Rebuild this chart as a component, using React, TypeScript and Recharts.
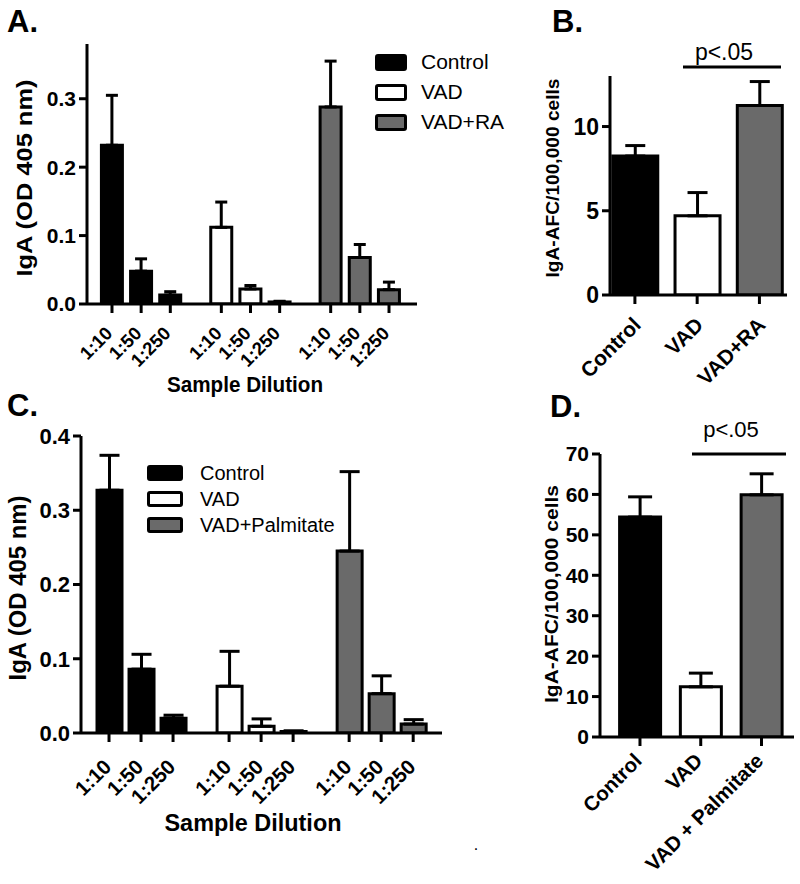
import React from 'react';
import { BarChart, Bar, XAxis, YAxis, Cell, ErrorBar, Legend } from 'recharts';

const FONT = '"Liberation Sans", Arial, Helvetica, sans-serif';

// ---------- Panel A ----------
const dilutionLabels = ['1:10', '1:50', '1:250'];
const treatmentsA = ['Control', 'VAD', 'VAD+RA'];
const aControl = [0.232, 0.048, 0.013];
const aControlErr = [0.073, 0.018, 0.005];
const aVAD = [0.112, 0.022, 0.003];
const aVADErr = [0.037, 0.005, 0.001];
const aVADRA = [0.288, 0.068, 0.021];
const aVADRAErr = [0.067, 0.019, 0.011];
const aYTicks = [0, 0.1, 0.2, 0.3];

// ---------- Panel B ----------
const treatmentsB = ['Control', 'VAD', 'VAD+RA'];
const bMeans = [8.25, 4.7, 11.25];
const bErr = [0.62, 1.38, 1.42];
const bYTicks = [0, 5, 10];

// ---------- Panel C ----------
const treatmentsC = ['Control', 'VAD', 'VAD+Palmitate'];
const cControl = [0.327, 0.086, 0.02];
const cControlErr = [0.047, 0.02, 0.004];
const cVAD = [0.063, 0.009, 0.002];
const cVADErr = [0.047, 0.01, 0.001];
const cVADP = [0.245, 0.053, 0.012];
const cVADPErr = [0.107, 0.024, 0.006];
const cYTicks = [0, 0.1, 0.2, 0.3, 0.4];

// ---------- Panel D ----------
const treatmentsD = ['Control', 'VAD', 'VAD + Palmitate'];
const dMeans = [54.4, 12.4, 59.9];
const dErr = [5.0, 3.4, 5.2];
const dYTicks = [0, 10, 20, 30, 40, 50, 60, 70];

const groupColors = ['#000000', '#ffffff', '#6a6a6a'];
const GROUP_STEP = 3.75;

type Row = { x: number; v: number; err: [number, number]; fill: string; label: string };

function buildGrouped(series: number[][], errs: number[][]): Row[] {
  const rows: Row[] = [];
  series.forEach((vals, g) =>
    vals.forEach((v, d) =>
      rows.push({ x: g * GROUP_STEP + d, v, err: [0, errs[g][d]], fill: groupColors[g], label: dilutionLabels[d] })
    )
  );
  return rows;
}

function buildSimple(labels: string[], means: number[], errs: number[]): Row[] {
  return means.map((v, i) => ({ x: i, v, err: [0, errs[i]], fill: groupColors[i], label: labels[i] }));
}

const rowsA = buildGrouped([aControl, aVAD, aVADRA], [aControlErr, aVADErr, aVADRAErr]);
const rowsB = buildSimple(treatmentsB, bMeans, bErr);
const rowsC = buildGrouped([cControl, cVAD, cVADP], [cControlErr, cVADErr, cVADPErr]);
const rowsD = buildSimple(treatmentsD, dMeans, dErr);

const AXIS = { stroke: '#000', strokeWidth: 3 };

function makeTick(rows: Row[], dx: number, dy: number, fontSize: number) {
  return (props: any) => {
    const { x, y, payload } = props;
    const r = rows.find((row) => Math.abs(row.x - payload.value) < 1e-6);
    const ax = x + dx;
    const ay = y + dy;
    return (
      <text
        x={ax}
        y={ay}
        dy="0.35em"
        textAnchor="end"
        transform={`rotate(-45 ${ax} ${ay})`}
        fontSize={fontSize}
        fontWeight="bold"
        fontFamily={FONT}
        fill="#000"
      >
        {r ? r.label : ''}
      </text>
    );
  };
}

function AbsText(props: any) {
  const { tx, ty, text, fontSize, rotate, length, weight } = props;
  return (
    <text
      x={tx}
      y={ty}
      dy={rotate ? '0.35em' : undefined}
      textAnchor="middle"
      fontSize={fontSize}
      fontWeight={weight || 'bold'}
      fontFamily={FONT}
      fill="#000"
      textLength={length}
      lengthAdjust="spacingAndGlyphs"
      transform={rotate ? `rotate(-90 ${tx} ${ty})` : undefined}
    >
      {text}
    </text>
  );
}

function LegendBlock(props: any) {
  const { items, boxW, boxH, rowH, gap, fontSize } = props;
  return (
    <div style={{ fontFamily: FONT, fontSize, color: '#000' }}>
      {items.map((t: string, i: number) => (
        <div key={t} style={{ display: 'flex', alignItems: 'center', height: rowH, whiteSpace: 'nowrap' }}>
          <span
            style={{
              display: 'inline-block',
              width: boxW,
              height: boxH,
              border: '3px solid #000',
              borderRadius: 3,
              background: groupColors[i],
              boxSizing: 'border-box',
              marginRight: gap,
            }}
          />
          <span>{t}</span>
        </div>
      ))}
    </div>
  );
}

function Panel(p: any) {
  return (
    <BarChart width={p.width} height={p.height} data={p.rows} margin={p.margin}>
      <XAxis
        type="number"
        dataKey="x"
        domain={p.xDomain}
        ticks={p.rows.map((r: Row) => r.x)}
        interval={0}
        allowDataOverflow
        height={40}
        axisLine={AXIS}
        tickLine={AXIS}
        tickSize={9}
        tickMargin={2}
        tick={makeTick(p.rows, p.tickDx, p.tickDy, p.tickFont)}
        label={p.xTitle}
      />
      <YAxis
        type="number"
        domain={p.yDomain}
        ticks={p.yTicks}
        interval={0}
        allowDataOverflow
        width={p.yAxisWidth}
        axisLine={AXIS}
        tickLine={AXIS}
        tickSize={8}
        tickMargin={3}
        tick={{ fontSize: p.yTickFont, fontWeight: 'bold', fill: '#000', fontFamily: FONT }}
        tickFormatter={p.yFmt}
        label={p.yTitle}
      />
      {p.legend ? (
        <Legend
          layout="horizontal"
          verticalAlign="middle"
          align="center"
          content={() => p.legend.node}
          wrapperStyle={{ left: p.legend.left, top: p.legend.top, width: 'auto', height: 'auto' }}
        />
      ) : null}
      <Bar dataKey="v" barSize={p.barSize} stroke="#000" strokeWidth={3} isAnimationActive={false}>
        {p.rows.map((r: Row, i: number) => (
          <Cell key={i} fill={r.fill} />
        ))}
        <ErrorBar dataKey="err" direction="y" width={p.errWidth} stroke="#000" strokeWidth={3} isAnimationActive={false} />
      </Bar>
    </BarChart>
  );
}

const fmt1 = (v: number) => v.toFixed(1);
const fmt0 = (v: number) => String(v);

export default function App() {
  return (
    <div style={{ position: 'absolute', left: 0, top: 0, width: 800, height: 884, background: '#fff', fontFamily: FONT }}>
      <div style={{ position: 'absolute', left: 0, top: 0 }}>
        <Panel
          width={470}
          height={420}
          rows={rowsA}
          margin={{ top: 44, right: 53, bottom: 76, left: 27 }}
          xDomain={[-0.857, 10.46]}
          yDomain={[0, 0.38]}
          yTicks={aYTicks}
          yFmt={fmt1}
          yAxisWidth={60}
          yTickFont={21}
          barSize={21}
          errWidth={6}
          tickDx={-3}
          tickDy={15}
          tickFont={18.5}
          xTitle={<AbsText tx={245} ty={392} text="Sample Dilution" fontSize={22} length={156} />}
          yTitle={<AbsText tx={24} ty={178} text="IgA (OD 405 nm)" fontSize={22} length={197} rotate />}
          legend={{
            left: 375,
            top: 47,
            node: <LegendBlock items={treatmentsA} boxW={32} boxH={17} rowH={30} gap={14} fontSize={21} />,
          }}
        />
      </div>
      <div style={{ position: 'absolute', left: 520, top: 0 }}>
        <Panel
          width={280}
          height={420}
          rows={rowsB}
          margin={{ top: 76, right: 13, bottom: 85, left: 40 }}
          xDomain={[-0.4, 2.443]}
          yDomain={[0, 13]}
          yTicks={bYTicks}
          yFmt={fmt0}
          yAxisWidth={50}
          yTickFont={23}
          barSize={45}
          errWidth={10}
          tickDx={2}
          tickDy={15}
          tickFont={21}
          yTitle={<AbsText tx={32} ty={178} text="IgA-AFC/100,000 cells" fontSize={19} length={199} rotate />}
        />
      </div>
      <div style={{ position: 'absolute', left: 0, top: 420 }}>
        <Panel
          width={470}
          height={464}
          rows={rowsC}
          margin={{ top: 16, right: 28, bottom: 111, left: 21 }}
          xDomain={[-0.875, 10.4]}
          yDomain={[0, 0.4]}
          yTicks={cYTicks}
          yFmt={fmt1}
          yAxisWidth={60}
          yTickFont={22}
          barSize={25}
          errWidth={10}
          tickDx={-1.5}
          tickDy={19}
          tickFont={20.5}
          xTitle={<AbsText tx={253} ty={411} text="Sample Dilution" fontSize={23} length={177} />}
          yTitle={<AbsText tx={18} ty={168} text="IgA (OD 405 nm)" fontSize={23} length={185} rotate />}
          legend={{
            left: 147,
            top: 40,
            node: <LegendBlock items={treatmentsC} boxW={36} boxH={16} rowH={26} gap={17} fontSize={20} />,
          }}
        />
      </div>
      <div style={{ position: 'absolute', left: 520, top: 420 }}>
        <Panel
          width={280}
          height={464}
          rows={rowsD}
          margin={{ top: 34, right: 6, bottom: 107, left: 30 }}
          xDomain={[-0.658, 2.535]}
          yDomain={[0, 70]}
          yTicks={dYTicks}
          yFmt={fmt0}
          yAxisWidth={50}
          yTickFont={21}
          barSize={41}
          errWidth={12}
          tickDx={-2}
          tickDy={9}
          tickFont={20.5}
          yTitle={<AbsText tx={31} ty={174} text="IgA-AFC/100,000 cells" fontSize={19} length={218} rotate />}
        />
      </div>
      <svg
        width={800}
        height={884}
        style={{ position: 'absolute', left: 0, top: 0, pointerEvents: 'none' }}
      >
        <g fontFamily={FONT} fill="#000">
          <text x={7} y={32} fontSize={31} fontWeight="bold">A.</text>
          <text x={552} y={32} fontSize={31} fontWeight="bold">B.</text>
          <text x={7} y={416} fontSize={31} fontWeight="bold">C.</text>
          <text x={550} y={417} fontSize={31} fontWeight="bold">D.</text>
          <text x={724} y={60} fontSize={23} textAnchor="middle">p&lt;.05</text>
          <text x={731} y={437} fontSize={22} textAnchor="middle">p&lt;.05</text>
          <text x={476} y={850} fontSize={16} textAnchor="middle">.</text>
        </g>
        <line x1={683} y1={67} x2={781} y2={67} stroke="#000" strokeWidth={3} />
        <line x1={692} y1={454} x2={786} y2={454} stroke="#000" strokeWidth={3} />
      </svg>
    </div>
  );
}
